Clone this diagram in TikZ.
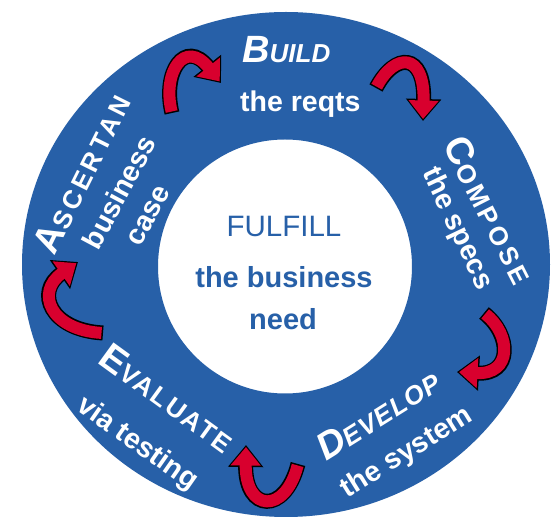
\documentclass[tikz,border=0pt]{standalone}
\usepackage{fontspec}
\setmainfont{Liberation Sans}
\usetikzlibrary{arrows.meta}
\definecolor{ringblue}{HTML}{2760A8}
\definecolor{arrowred}{HTML}{D8002E}
\newcommand{\firstL}[1]{{\fontsize{38}{38}\selectfont #1}}
\newcommand{\restL}[1]{{\fontsize{26}{26}\selectfont #1}}
\newcommand{\spaced}[2]{{\addfontfeature{LetterSpace=#1}#2}}
\tikzset{
  capline/.style={text=white, inner sep=0pt, font=\bfseries\itshape},
  capup/.style={text=white, inner sep=0pt, font=\bfseries},
  lowline/.style={text=white, inner sep=0pt, font=\fontsize{28.5}{28.5}\selectfont\bfseries},
  centerline/.style={text=ringblue, inner sep=0pt, font=\fontsize{29.5}{29.5}\selectfont},
  arrowout/.style={line width=15pt, black, -{Triangle[width=34pt,length=22pt]}},
  arrowin/.style={line width=12pt, arrowred, shorten >=2pt, shorten <=1.5pt, -{Triangle[width=29pt,length=18.5pt]}}
}
\newcommand{\ringarrow}[1]{\draw[arrowout] #1; \draw[arrowin] #1;}
\begin{document}
\begin{tikzpicture}[x=1pt,y=-1pt]
\useasboundingbox (0,0) rectangle (558,521);
\fill[white] (0,0) rectangle (558,521);
% ring
\fill[ringblue, even odd rule] (286,264.5) ellipse [x radius=264pt, y radius=252.5pt]
  (285,266.5) circle [radius=127pt];
% centre text
\node[centerline, anchor=base] (fulfill) at (284,237) {FULFILL};
\node[centerline, font=\fontsize{29}{29}\selectfont\bfseries, anchor=base] (busi) at (284,288) {the business};
\node[centerline, font=\fontsize{29}{29}\selectfont\bfseries, anchor=base] (need) at (283,330) {need};
% stage labels
\node[capline, anchor=base west] (build) at (242,63) {\firstL{B}\restL{UILD}};
\node[lowline, anchor=base west] (reqts) at (240,112) {the reqts};
\node[capup, rotate=-63] (compose) at (490,210) {\spaced{14}{\firstL{C}\restL{OMPOSE}}};
\node[lowline, rotate=-64.5] (specs) at (457,229) {the specs};
\node[capline, rotate=32] (develop) at (378,414) {\spaced{4}{\firstL{D}\restL{EVELOP}}};
\node[lowline, rotate=32] (system) at (407,453) {the system};
\node[capup, rotate=-36] (evaluate) at (168,398) {\spaced{8}{\firstL{E}\restL{VALUATE}}};
\node[lowline, rotate=-35] (testing) at (137,444) {via testing};
\node[capup, rotate=63.5] (ascertan) at (82,173) {\spaced{14}{\firstL{A}\restL{SCERTAN}}};
\node[lowline, rotate=62] (business) at (119,192) {business};
\node[lowline, rotate=62] (case) at (149,216) {case};
% arrows
\ringarrow{(172,113) .. controls (162,72) and (185,38) .. (221,83)}
\ringarrow{(376,88) .. controls (395,52) and (425,52) .. (423,121)}
\ringarrow{(484,313) .. controls (512,335) and (512,375) .. (457,372)}
\ringarrow{(298,464) .. controls (285,515) and (245,512) .. (246,445)}
\ringarrow{(103,333) .. controls (50,330) and (35,292) .. (78,262)}
\end{tikzpicture}
\end{document}
